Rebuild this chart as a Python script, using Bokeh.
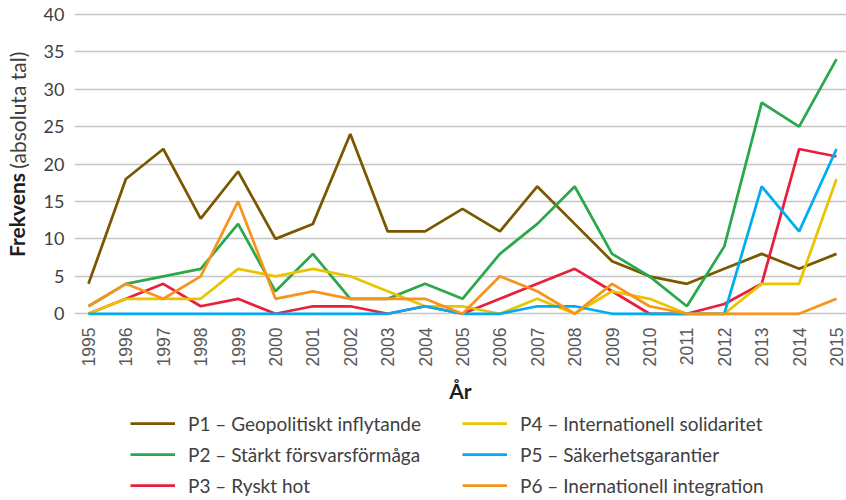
import math
from bokeh.plotting import figure
from bokeh.layouts import column
from bokeh.models import Range1d, FixedTicker, Legend, LegendItem, LinearAxis
from bokeh.embed import file_html
from bokeh.resources import INLINE

# ---- data ----
years = list(range(1995, 2016))
p1 = [4, 18, 22, 12.7, 19, 10, 12, 24, 11, 11, 14, 11, 17, 12, 7, 5, 4, 6, 8, 6, 8]
p2 = [1, 4, 5, 6, 12, 3, 8, 2, 2, 4, 2, 8, 12, 17, 8, 5, 1, 9, 28.2, 25, 34]
p3 = [0, 2, 4, 1, 2, 0, 1, 1, 0, 1, 0, 2, 4, 6, 3, 0, 0, 1.3, 4, 22, 21]
p4 = [0, 2, 2, 2, 6, 5, 6, 5, 3, 1, 1, 0, 2, 0, 3, 2, 0, 0, 4, 4, 18]
p5 = [0, 0, 0, 0, 0, 0, 0, 0, 0, 1, 0, 0, 1, 1, 0, 0, 0, 0, 17, 11, 22]
p6 = [1, 4, 2, 5, 15, 2, 3, 2, 2, 2, 0, 5, 3, 0, 4, 1, 0, 0, 0, 0, 2]

series_names = [
    "P1 – Geopolitiskt inflytande",
    "P2 – Stärkt försvarsförmåga",
    "P3 – Ryskt hot",
    "P4 – Internationell solidaritet",
    "P5 – Säkerhetsgarantier",
    "P6 – Inernationell integration",
]
series_values = [p1, p2, p3, p4, p5, p6]
colors = ["#7B5700", "#2BA84A", "#E8203F", "#EAC400", "#00AEEF", "#F7941D"]
y_ticks = [0, 5, 10, 15, 20, 25, 30, 35, 40]
y_title_bold = "Frekvens"
y_title_rest = "(absoluta tal)"
x_title = "År"

FONT = "Lato"
LW = 2.75
NBSP = "\u00a0"
PAD = 20

# ---------------- main chart ----------------
p = figure(
    width=846, height=408,
    output_backend="svg", toolbar_location=None,
    x_range=Range1d(1994.626, 2015.267),
    y_range=Range1d(-0.5, 40.5),
    min_border_left=74, min_border_right=0,
    min_border_top=10, min_border_bottom=91,
)
p.outline_line_color = None
p.background_fill_color = "white"
p.border_fill_color = "white"

for vals, col in zip(series_values, colors):
    p.line(years, vals, line_color=col, line_width=LW)

p.xgrid.grid_line_color = None
p.ygrid.ticker = FixedTicker(ticks=y_ticks)
p.ygrid.grid_line_color = "#C4C4C4"
p.ygrid.grid_line_width = 1.6

xa = p.xaxis[0]
xa.ticker = FixedTicker(ticks=years)
xa.major_label_orientation = math.pi / 2
xa.major_label_text_font = "Liberation Sans"
xa.major_label_text_font_size = "17.5px"
xa.major_label_text_color = "#595959"
xa.major_label_standoff = 10
xa.axis_line_color = None
xa.major_tick_line_color = None
xa.major_tick_out = 0
xa.minor_tick_line_color = None
xa.minor_tick_out = 0
xa.axis_label = x_title
xa.axis_label_text_font = FONT
xa.axis_label_text_font_style = "bold"
xa.axis_label_text_font_size = "21px"
xa.axis_label_text_color = "#1E1E1E"
xa.axis_label_standoff = 9

# y axis: ticks + bold part of the title (padded so it sits below centre)
ya = p.yaxis[0]
ya.ticker = FixedTicker(ticks=y_ticks)
ya.major_label_text_font = FONT
ya.major_label_text_font_size = "18px"
ya.major_label_text_color = "#404040"
ya.major_label_standoff = 10
ya.axis_line_color = None
ya.major_tick_line_color = None
ya.major_tick_out = 0
ya.minor_tick_line_color = None
ya.minor_tick_out = 0
ya.axis_label = y_title_bold + NBSP * PAD
ya.axis_label_text_font = FONT
ya.axis_label_text_font_style = "bold"
ya.axis_label_text_font_size = "21px"
ya.axis_label_text_color = "#1E1E1E"
ya.axis_label_standoff = 12

# regular part of the title, on a label-only axis pulled into the same column
rest = LinearAxis(ticker=FixedTicker(ticks=[]),
                  axis_line_color=None, major_tick_line_color=None,
                  minor_tick_line_color=None, major_tick_out=0, minor_tick_out=0,
                  major_label_text_font_size="0px",
                  axis_label=NBSP * PAD + y_title_rest, axis_label_text_font=FONT,
                  axis_label_text_font_style="normal",
                  axis_label_text_font_size="21px",
                  axis_label_text_color="#404040",
                  axis_label_standoff=-29)
p.add_layout(rest, "left")

# ---------------- legend strip ----------------
lg = figure(
    width=846, height=92,
    output_backend="svg", toolbar_location=None,
    x_axis_type=None, y_axis_type=None,
    x_range=Range1d(0, 1), y_range=Range1d(0, 1),
    min_border=0, min_border_left=0, min_border_right=0,
    min_border_top=0, min_border_bottom=0,
)
lg.outline_line_color = None
lg.xgrid.visible = False
lg.ygrid.visible = False

# same series, lying outside this strip's ranges, so only their legend keys show
leg_renderers = [lg.line(years, vals, line_color=col, line_width=LW)
                 for vals, col in zip(series_values, colors)]


def make_legend(idx, xoff):
    items = [LegendItem(label=series_names[i], renderers=[leg_renderers[i]]) for i in idx]
    return Legend(items=items, location=(xoff, 0), orientation="vertical",
                  glyph_width=45, glyph_height=30, label_height=30,
                  spacing=1, padding=0, margin=0, label_standoff=13,
                  border_line_color=None, background_fill_alpha=0,
                  label_text_font=FONT, label_text_font_size="19px",
                  label_text_color="#404040")


lg.add_layout(make_legend([0, 1, 2], 56))
lg.add_layout(make_legend([3, 4, 5], 388))

layout = column(p, lg, spacing=0)
open("out.html", "w").write(file_html(layout, INLINE))
